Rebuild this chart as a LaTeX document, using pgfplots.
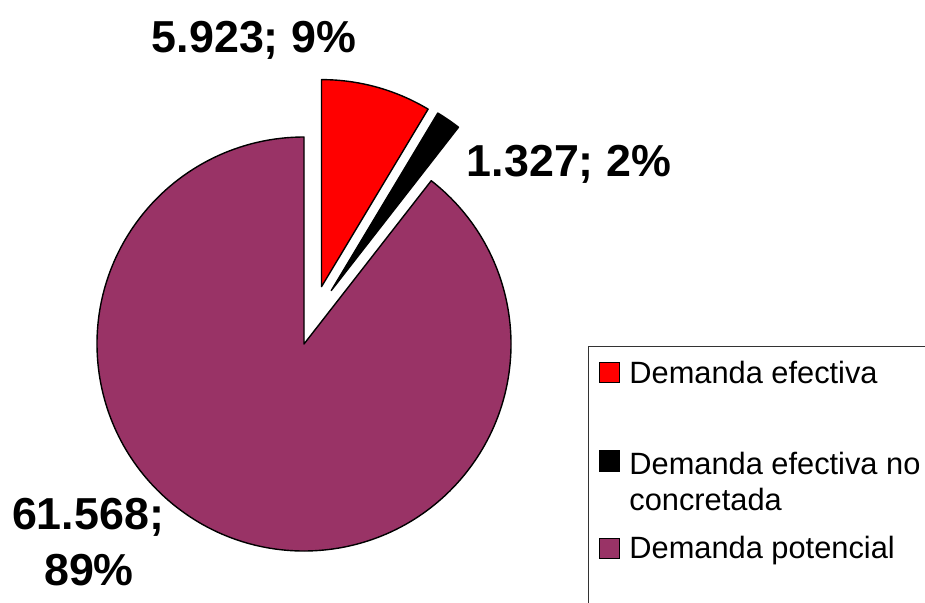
\documentclass[border=0pt]{standalone}
\usepackage{pgfplots}
\pgfplotsset{compat=1.18}
\usepackage{fontspec}
\setmainfont{Liberation Sans}

\definecolor{efectiva}{RGB}{255,0,0}
\definecolor{noconcretada}{RGB}{0,0,0}
\definecolor{potencial}{RGB}{153,51,102}

% values in thousands
\def\vA{5.923}
\def\vB{1.327}
\def\vC{61.568}

\begin{document}
\begin{tikzpicture}
\pgfmathsetmacro\tot{\vA+\vB+\vC}
\pgfmathsetmacro\aA{360*\vA/\tot}
\pgfmathsetmacro\aB{360*\vB/\tot}
\pgfmathsetmacro\eA{90-\aA}
\pgfmathsetmacro\eB{\eA-\aB}
\def\R{103.5pt}
\begin{axis}[
    scale only axis,
    width=462.5pt, height=301.5pt,
    xmin=0, xmax=925, ymin=0, ymax=603,
    y dir=reverse,
    hide axis,
    clip=false,
]
  \path (axis cs:0,0) rectangle (axis cs:925,603);
  % Demanda potencial
  \filldraw[fill=potencial, draw=black, line width=0.7pt, line join=round]
    (axis cs:304,344) -- ++(\eB:\R) arc[start angle=\eB, end angle=-270, radius=\R] -- cycle;
  % Demanda efectiva (exploded)
  \filldraw[fill=efectiva, draw=black, line width=0.7pt, line join=round]
    (axis cs:304,344) ++(73:30pt) -- ++(90:\R) arc[start angle=90, end angle=\eA, radius=\R] -- cycle;
  % Demanda efectiva no concretada (exploded)
  \filldraw[fill=noconcretada, draw=black, line width=0.7pt, line join=round]
    (axis cs:304,344) ++(63:30pt) -- ++(\eA:\R) arc[start angle=\eA, end angle=\eB, radius=\R] -- cycle;

  % data labels
  \begin{scope}[every node/.style={inner sep=0pt, font=\fontsize{22.4}{26}\selectfont\bfseries}]
    \node[anchor=base] at (axis cs:254,53) {5.923; 9\%};
    \node[anchor=base] at (axis cs:569,177) {1.327; 2\%};
    \node[anchor=base] at (axis cs:88,529) {61.568;};
    \node[anchor=base] at (axis cs:89,585) {89\%};
  \end{scope}

  % legend
  \draw[black!80, line width=0.5pt] (axis cs:925,347) -- (axis cs:588,347) -- (axis cs:588,603);
  \begin{scope}[every node/.style={inner sep=0pt, anchor=base west, font=\fontsize{15.4}{18}\selectfont}]
    \filldraw[fill=efectiva, draw=black, line width=0.5pt] (axis cs:599,363) rectangle (axis cs:619,383);
    \node at (axis cs:629,384) {Demanda efectiva};
    \filldraw[fill=noconcretada, draw=black, line width=0.5pt] (axis cs:599,451) rectangle (axis cs:619,471);
    \node at (axis cs:629,474) {Demanda efectiva no};
    \node at (axis cs:629,510) {concretada};
    \filldraw[fill=potencial, draw=black, line width=0.5pt] (axis cs:599,538) rectangle (axis cs:619,558);
    \node at (axis cs:629,558) {Demanda potencial};
  \end{scope}
\end{axis}
\pgfresetboundingbox
\path (current axis.south west) rectangle (current axis.north east);
\end{tikzpicture}
\end{document}
